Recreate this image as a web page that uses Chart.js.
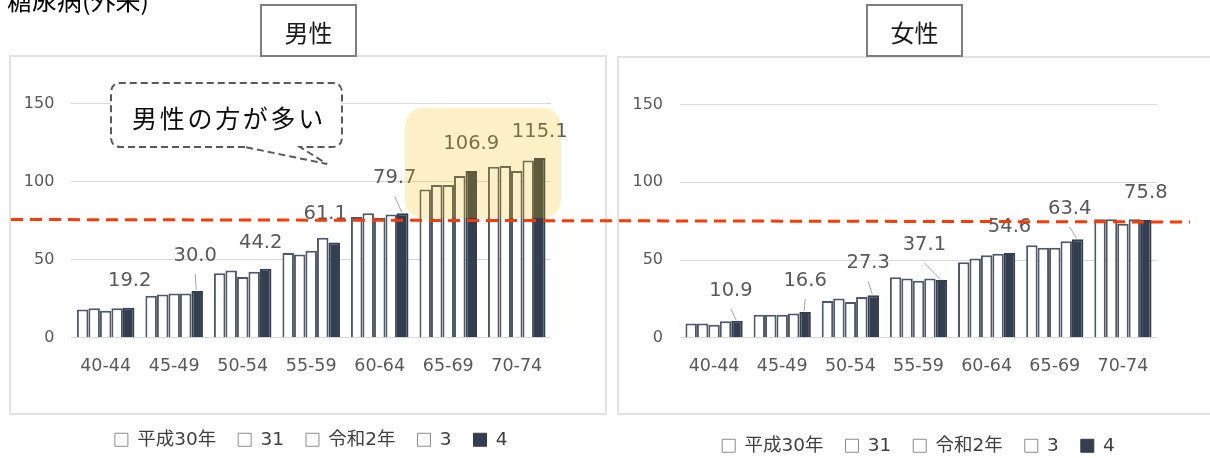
<!DOCTYPE html>
<html lang="ja">
<head>
<meta charset="UTF-8">
<title>糖尿病(外来)</title>
<script src="https://cdn.jsdelivr.net/npm/chart.js"></script>
<style>
  * { box-sizing: border-box; }
  body { margin: 0; width: 1210px; height: 458px; overflow: hidden; background: #fff; position: relative;
         font-family: "DejaVu Sans", "Noto Sans CJK JP", sans-serif; }
  .panel { position: absolute; border: 2px solid #e2e2e2; }
  canvas { position: absolute; }
  svg.overlay { position: absolute; left: 0; top: 0; pointer-events: none; }
</style>
</head>
<body>
<div class="panel" style="left:9px; top:55px; width:598px; height:360px;"></div>
<div class="panel" style="left:617px; top:56px; width:610px; height:359px;"></div>
<canvas id="maleChart" width="596" height="403" style="left:10px; top:56px;"></canvas>
<canvas id="femaleChart" width="592" height="409" style="left:618px; top:56px;"></canvas>

<svg class="overlay" width="1210" height="458" xmlns="http://www.w3.org/2000/svg">
  <!-- heading, partly above the page edge -->
  <text x="7" y="10" font-size="25" fill="#000" font-family="Noto Sans CJK JP">糖尿病(外来)</text>
  <!-- panel titles -->
  <rect x="261" y="5" width="95" height="51" fill="#fff" stroke="#7f7f7f" stroke-width="2"/>
  <text x="308.5" y="31" font-size="24" fill="#1a1a1a" text-anchor="middle" dominant-baseline="central" font-family="Noto Sans CJK JP">男性</text>
  <rect x="867" y="5" width="95" height="51" fill="#fff" stroke="#7f7f7f" stroke-width="2"/>
  <text x="914.5" y="31" font-size="24" fill="#1a1a1a" text-anchor="middle" dominant-baseline="central" font-family="Noto Sans CJK JP">女性</text>
  <!-- callout -->
  <path d="M245 147 L121 147 Q111 147 111 137 L111 93 Q111 83 121 83 L332 83 Q342 83 342 93 L342 137 Q342 147 332 147 L300 147 L327 164 Z"
        fill="#fff" stroke="#595959" stroke-width="2" stroke-dasharray="7 4"/>
  <text x="229" y="117" font-size="25" letter-spacing="2.7" fill="#0d0d0d" text-anchor="middle" dominant-baseline="central" font-family="Noto Sans CJK JP">男性の方が多い</text>
  <!-- highlight on the older groups -->
  <rect x="405" y="108" width="156" height="110" rx="18" fill="rgba(255,190,0,0.22)"/>
  <!-- reference line -->
  <line x1="11" y1="219.5" x2="1190" y2="222" stroke="#ff3b00" stroke-width="3" stroke-dasharray="12 7"/>
</svg>

<script>
const ageGroups = ['40-44', '45-49', '50-54', '55-59', '60-64', '65-69', '70-74'];
const yearNames = ['平成30年', '31', '令和2年', '3', '4'];
const yTicks = [0, 50, 100, 150];

// 男性
const maleH30 = [18.2, 27.0, 41.4, 54.3, 77.4, 95.0, 109.5];
const maleH31 = [19.0, 27.8, 43.1, 53.4, 79.8, 97.9, 110.1];
const maleR2  = [17.4, 28.4, 38.9, 55.8, 76.8, 97.9, 106.9];
const maleR3  = [19.0, 28.4, 42.3, 64.0, 79.0, 103.7, 113.6];
const maleR4  = [19.2, 30.0, 44.2, 61.1, 79.7, 106.9, 115.1];

// 女性
const femaleH30 = [9.2, 14.8, 23.7, 38.9, 48.6, 59.5, 76.3];
const femaleH31 = [9.2, 14.8, 25.3, 38.1, 51.0, 57.9, 76.3];
const femaleR2  = [8.4, 14.8, 23.0, 36.6, 53.0, 57.9, 73.4];
const femaleR3  = [10.7, 15.6, 26.2, 38.1, 54.0, 62.1, 76.3];
const femaleR4  = [10.9, 16.6, 27.3, 37.1, 54.6, 63.4, 75.8];

// where each value label sits relative to the top of its bar (dx, dy)
const maleLabelShift   = [[1, -27], [-2, -35], [-5, -26], [-9, -28], [-8, -35], [0, -27], [0, -26]];
const femaleLabelShift = [[-6, -30], [0, -31], [-5, -32], [-17, -35], [0, -26], [-8, -30], [0, -27]];

const FONT = '"DejaVu Sans", "Noto Sans CJK JP", sans-serif';
Chart.defaults.font.family = FONT;
Chart.defaults.color = '#595959';

const DARK = '#333f50';
const EDGE = '#4d5868';

// labels the latest year's bars, with a short leader where the label sits high
const valueLabels = {
  id: 'valueLabels',
  afterDatasetsDraw(chart, args, opts) {
    const ctx = chart.ctx;
    const last = chart.data.datasets.length - 1;
    const meta = chart.getDatasetMeta(last);
    ctx.save();
    ctx.font = '19.5px ' + FONT;
    ctx.fillStyle = '#595959';
    ctx.textAlign = 'center';
    ctx.textBaseline = 'middle';
    meta.data.forEach((bar, i) => {
      const [dx, dy] = opts.shift[i];
      const x = bar.x + dx, y = bar.y + dy;
      if (dy <= -29) {
        ctx.strokeStyle = '#a6a6a6';
        ctx.lineWidth = 1;
        ctx.beginPath();
        ctx.moveTo(x, y + 18);
        ctx.lineTo(bar.x - 1, bar.y - 1);
        ctx.stroke();
      }
      ctx.fillText(chart.data.datasets[last].data[i].toFixed(1), x, y);
    });
    ctx.restore();
  }
};

function makeChart(id, series, shift, pad, axisWidth, axisHeight) {
  const datasets = series.map((vals, k) => ({
    label: yearNames[k],
    data: vals,
    backgroundColor: k === series.length - 1 ? DARK : '#ffffff',
    borderColor: k === series.length - 1 ? DARK : EDGE,
    borderWidth: 2,
    categoryPercentage: 0.84,
    barPercentage: 1.0
  }));
  return new Chart(document.getElementById(id), {
    type: 'bar',
    data: { labels: ageGroups, datasets },
    plugins: [valueLabels],
    options: {
      responsive: false,
      animation: false,
      layout: { padding: pad },
      plugins: {
        tooltip: { enabled: false },
        valueLabels: { shift },
        legend: {
          position: 'bottom',
          fullSize: false,   // centre under the plot area, not the whole canvas
          labels: {
            boxWidth: 13, boxHeight: 13, padding: 22,
            color: '#404040',
            font: { size: 18.5 },
            generateLabels(chart) {
              return chart.data.datasets.map((ds, i) => ({
                text: ds.label,
                fillStyle: ds.backgroundColor,
                strokeStyle: i === chart.data.datasets.length - 1 ? DARK : '#8c8c8c',
                lineWidth: 1,
                datasetIndex: i,
                fontColor: '#404040'
              }));
            }
          }
        }
      },
      scales: {
        x: {
          grid: { display: false, drawTicks: false },
          border: { display: false },
          ticks: { font: { size: 17.5 }, color: '#595959', padding: 18 },
          afterFit(scale) { scale.height = axisHeight; }
        },
        y: {
          min: 0, max: 150,
          afterBuildTicks(scale) { scale.ticks = yTicks.map(v => ({ value: v })); },
          grid: { color: '#d9d9d9', lineWidth: 1, drawTicks: false },
          border: { display: false },
          ticks: { font: { size: 16 }, color: '#595959', padding: 17 },
          afterFit(scale) { scale.width = axisWidth; }
        }
      }
    }
  });
}

makeChart('maleChart', [maleH30, maleH31, maleR2, maleR3, maleR4], maleLabelShift,
  { top: 47.6, right: 55, bottom: 0, left: 0 }, 61.4, 70.7);
makeChart('femaleChart', [femaleH30, femaleH31, femaleR2, femaleR3, femaleR4], femaleLabelShift,
  { top: 48.5, right: 53, bottom: 0, left: 0 }, 62, 76.7);
</script>
</body>
</html>
